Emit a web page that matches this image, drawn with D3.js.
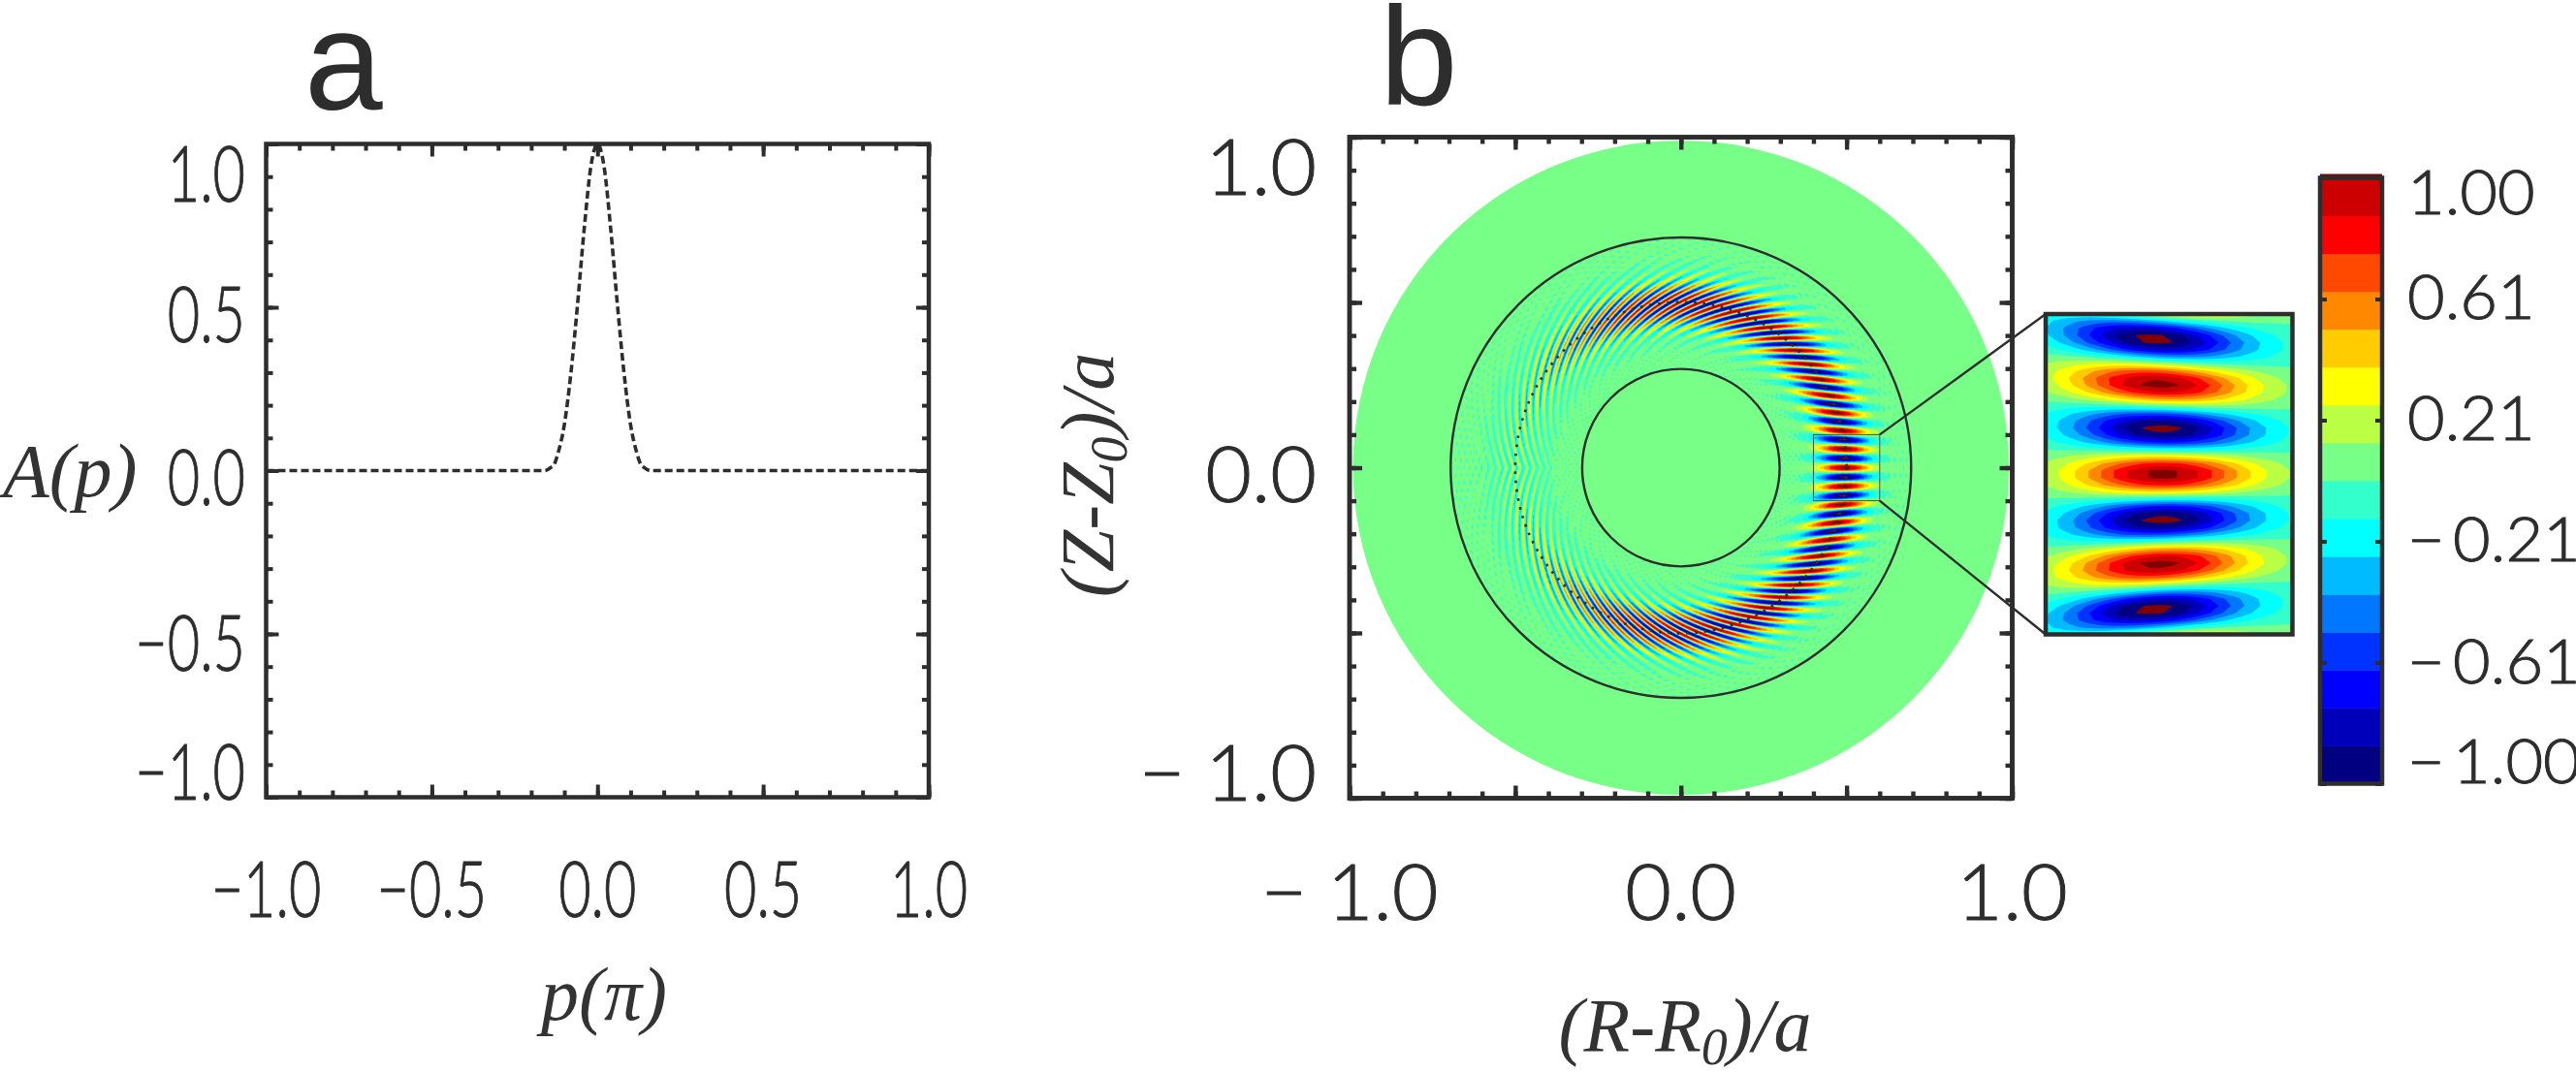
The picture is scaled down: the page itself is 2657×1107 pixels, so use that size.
<!DOCTYPE html>
<html lang="en">
<head>
<meta charset="UTF-8">
<title>Mode structure</title>
<style>
    html, body { margin: 0; padding: 0; background: #fff; overflow: hidden; }
    svg { display: block; }
    .num { font-family: Lato, "Open Sans", sans-serif; font-weight: 300; fill: #2d2d2d; stroke: #2d2d2d; stroke-width: 1px; }
    .lab { font-family: "Liberation Serif", serif; font-style: italic; font-weight: 400; fill: #333; }
    .panel { font-family: "Liberation Sans", Arial, sans-serif; fill: #2d2d2d; font-size: 145px; }
    .tick line, .domain { stroke: #2d2d2d; }
    .domain { display: none; }
</style>
</head>
<body>
<svg width="2657" height="1107"></svg>
<script src="https://d3js.org/d3.v7.min.js"></script>
<script>
// panel a: A(p)
const pValues = [-1, -0.16, -0.14, -0.13, -0.12, -0.10, -0.08, -0.06, -0.04, -0.02, 0, 0.02, 0.04, 0.06, 0.08, 0.10, 0.12, 0.13, 0.14, 0.16, 1];
const aValues = [0, 0, 0.01, 0.02, 0.05, 0.14, 0.30, 0.51, 0.74, 0.93, 1.0, 0.93, 0.74, 0.51, 0.30, 0.14, 0.05, 0.02, 0.01, 0, 0];

const aMajor = [-1, -0.5, 0, 0.5, 1];
const aMinor = d3.range(-10, 11).map(d => d / 10);
const aLabels = ["\u22121.0", "\u22120.5", "0.0", "0.5", "1.0"];
const bLabelTicks = [-1, 0, 1];
const bLabels = ["\u2212\u2009\u20091.0", "0.0", "1.0"];

// panel b: ring radii, envelope and radial wavenumber of the mode against poloidal angle
const ringRadii = [0.298, 0.695];
const discRadius = 0.99;
const ridgeRadius = 0.495;
const envAngles = [0, 30, 60, 90, 110, 130, 150, 170, 180];
const envAmps = [1.06, 1.06, 1.05, 1.0, 0.85, 0.6, 0.38, 0.28, 0.26];
const shearAngles = [0, 10, 33, 60, 90, 120, 180];
const shearK = [0, 25, 89, 150, 216, 250, 300];
const modeNumber = 55;

// colour bar
const barColors = ["#000080", "#0000bb", "#0000ff", "#0033ff", "#0077ff", "#00bbff", "#00ffff", "#33ffcc",
    "#77ff88", "#bbff44", "#ffff00", "#ffcc00", "#ff8800", "#ff4800", "#ff0000", "#cc0000"];
const overColor = "#800000";
const barTicks = [-1, -0.6, -0.2, 0.2, 0.6, 1];
const barLabels = ["\u2212\u20091.00", "\u2212\u20090.61", "\u2212\u20090.21", "0.21", "0.61", "1.00"];

const ink = "#2d2d2d";
const svg = d3.select("svg");
const defs = svg.append("defs");

const ax = d3.scaleLinear([-1, 1], [274.5, 958]);
const ay = d3.scaleLinear([-1, 1], [822.5, 148.5]);
const bx = d3.scaleLinear([-1, 1], [1392, 2075.5]);
const by = d3.scaleLinear([-1, 1], [823.5, 141.5]);
const ix = d3.scaleLinear([0.4, 0.6], [2110, 2364.5]);
const iy = d3.scaleLinear([-0.1, 0.1], [654.5, 324]);
const cy = d3.scaleLinear([-1, 1], [808.5, 183.5]);

const envelope = d3.scaleLinear(envAngles, envAmps);
const radialK = d3.scaleLinear(shearAngles, shearK);

function field(x, y, hatch) {
    const r = Math.hypot(x, y);
    if (r < 0.28 || r > 0.72) return 0;
    const th = Math.atan2(y, x);
    const deg = Math.abs(th) * 180 / Math.PI;
    const d = r - ridgeRadius;
    const phase = modeNumber * th + Math.sign(th) * radialK(deg) * d;
    const v = envelope(deg) * Math.exp(-d * d / (2 * 0.05 * 0.05)) * Math.cos(phase);
    // the weak chopped ripple seen all over the ring
    return hatch ? v + 0.03 * Math.cos(90 * th) * Math.cos(360 * r) + 0.02 : v;
}

// contour fill of the field over a data window, in the given pixel scales
function drawField(g, x0, x1, y0, y1, nx, ny, sx, sy, hatch) {
    const dx = (x1 - x0) / (nx - 1), dy = (y1 - y0) / (ny - 1);
    const values = new Float64Array(nx * ny);
    for (let j = 0; j < ny; j++) {
        for (let i = 0; i < nx; i++) {
            values[j * nx + i] = field(x0 + i * dx, y0 + j * dy, hatch);
        }
    }
    const negated = values.map(v => -v);
    const path = d3.geoPath(d3.geoTransform({
        point(px, py) {
            this.stream.point(sx(x0 + (px - 0.5) * dx), sy(y0 + (py - 0.5) * dy));
        }
    }));
    const contours = d3.contours().size([nx, ny]).smooth(true);

    g.append("rect")
        .attr("x", Math.min(sx(x0), sx(x1))).attr("y", Math.min(sy(y0), sy(y1)))
        .attr("width", Math.abs(sx(x1) - sx(x0))).attr("height", Math.abs(sy(y1) - sy(y0)))
        .attr("fill", barColors[0]);

    const levels = barColors.map((c, i) => ({ t: -1 + i * 0.125, c }));
    levels[0].t = -50;
    levels.push({ t: 1, c: overColor });
    levels.forEach(l => {
        g.append("path").attr("d", path(contours.contour(values, l.t))).attr("fill", l.c);
    });
    // below the bottom of the range the colour table wraps round to dark red
    g.append("path").attr("d", path(contours.contour(negated, 1))).attr("fill", overColor);
}

function frame(sx, sy, width) {
    const g = svg.append("g");
    const sizes = [[aMinor, 7], [aMajor, 13]];
    [[d3.axisBottom(sx), sy.range()[1]], [d3.axisTop(sx), sy.range()[0]]].forEach(([a, off]) => {
        sizes.forEach(([vals, len]) => {
            g.append("g").attr("transform", `translate(0,${off})`)
                .call(a.tickValues(vals).tickSize(len).tickFormat(""))
                .call(s => s.selectAll("line").attr("stroke-width", width));
        });
    });
    [[d3.axisRight(sy), sx.range()[0]], [d3.axisLeft(sy), sx.range()[1]]].forEach(([a, off]) => {
        sizes.forEach(([vals, len]) => {
            g.append("g").attr("transform", `translate(${off},0)`)
                .call(a.tickValues(vals).tickSize(len).tickFormat(""))
                .call(s => s.selectAll("line").attr("stroke-width", width));
        });
    });
    g.append("rect")
        .attr("x", sx.range()[0]).attr("y", sy.range()[1])
        .attr("width", sx.range()[1] - sx.range()[0]).attr("height", sy.range()[0] - sy.range()[1])
        .attr("fill", "none").attr("stroke", ink).attr("stroke-width", width + 0.5);
}

function numText(str, x, y, size, anchor, squeeze) {
    svg.append("text").attr("class", "num")
        .attr("transform", `translate(${x},${y}) scale(${squeeze},1)`)
        .attr("text-anchor", anchor).attr("font-size", size).text(str);
}

function subLabel(t, head, sub, tail) {
    t.append("tspan").text(head);
    t.append("tspan").attr("font-size", 54).attr("dy", 14).text(sub);
    t.append("tspan").attr("dy", -14).text(tail);
}

// ---- panel a ----
defs.append("clipPath").attr("id", "clipA").append("rect")
    .attr("x", ax(-1)).attr("y", ay(1)).attr("width", ax(1) - ax(-1)).attr("height", ay(-1) - ay(1));

svg.append("path")
    .datum(d3.zip(pValues, aValues))
    .attr("clip-path", "url(#clipA)")
    .attr("fill", "none").attr("stroke", ink).attr("stroke-width", 3.6)
    .attr("stroke-dasharray", "8 4")
    .attr("d", d3.line().x(d => ax(d[0])).y(d => ay(d[1])).curve(d3.curveMonotoneX));

frame(ax, ay, 4);

// the label baselines in the reference do not follow the ticks exactly
const aYBase = [825, 692, 521, 353, 208];
aMajor.forEach((v, i) => numText(aLabels[i], 253, aYBase[i], 80, "end", 0.72));
aMajor.forEach((v, i) => numText(aLabels[i], ax(v), 946, 80, "middle", 0.72));

svg.append("text").attr("class", "lab").attr("x", 3).attr("y", 512).attr("font-size", 78).text("A(p)");
svg.append("text").attr("class", "lab").attr("x", 623).attr("y", 1052).attr("font-size", 78)
    .attr("text-anchor", "middle").text("p(\u03c0)");
svg.append("text").attr("class", "panel").attr("x", 314).attr("y", 113).text("a");

// ---- panel b ----
svg.append("ellipse")
    .attr("cx", bx(0)).attr("cy", by(0))
    .attr("rx", bx(discRadius) - bx(0)).attr("ry", by(0) - by(discRadius))
    .attr("fill", barColors[8]);

const ringClip = defs.append("clipPath").attr("id", "clipRing");
ringClip.append("path").attr("clip-rule", "evenodd").attr("d", () => {
    const p = d3.path();
    ringRadii.forEach(r => {
        const R = bx(r) - bx(0);
        p.moveTo(bx(0) + R, by(0));
        p.arc(bx(0), by(0), R, 0, 2 * Math.PI);
    });
    return p.toString();
});

const ring = svg.append("g").attr("clip-path", "url(#clipRing)");
drawField(ring, -0.71, 0.71, -0.71, 0.71, 700, 700, bx, by, true);

svg.append("g").selectAll("circle").data(ringRadii).join("circle")
    .attr("cx", bx(0)).attr("cy", by(0)).attr("r", d => bx(d) - bx(0))
    .attr("fill", "none").attr("stroke", ink).attr("stroke-width", 2.4);

// dotted q surface
svg.append("circle")
    .attr("cx", bx(0)).attr("cy", by(0)).attr("r", bx(0.5) - bx(0))
    .attr("fill", "none").attr("stroke", ink).attr("stroke-width", 2.6)
    .attr("stroke-dasharray", "2.6 6.7");

// box and connector lines to the inset
svg.append("rect")
    .attr("x", bx(0.4)).attr("y", by(0.1))
    .attr("width", bx(0.6) - bx(0.4)).attr("height", by(-0.1) - by(0.1))
    .attr("fill", "none").attr("stroke", ink).attr("stroke-width", 1).attr("opacity", 0.8);

frame(bx, by, 4.4);

svg.append("line").attr("x1", bx(0.6)).attr("y1", by(0.1)).attr("x2", ix(0.4)).attr("y2", iy(0.1))
    .attr("stroke", ink).attr("stroke-width", 2.4);
svg.append("line").attr("x1", bx(0.6)).attr("y1", by(-0.1)).attr("x2", ix(0.4)).attr("y2", iy(-0.1))
    .attr("stroke", ink).attr("stroke-width", 2.4);

bLabelTicks.forEach((v, i) => numText(bLabels[i], bx(v), 949, 80, "middle", 1.03));
[826, 518, 201].forEach((base, i) => numText(bLabels[i], 1358, base, 80, "end", 1.03));

svg.append("text").attr("class", "lab").attr("x", 1738).attr("y", 1084).attr("font-size", 78)
    .attr("text-anchor", "middle")
    .call(subLabel, "(R-R", "0", ")/a");
svg.append("text").attr("class", "lab")
    .attr("transform", "translate(1148,490) rotate(-90)").attr("font-size", 78)
    .attr("text-anchor", "middle")
    .call(subLabel, "(Z-Z", "0", ")/a");
svg.append("text").attr("class", "panel").attr("x", 1423).attr("y", 108).text("b");

// ---- inset ----
defs.append("clipPath").attr("id", "clipInset").append("rect")
    .attr("x", ix(0.4)).attr("y", iy(0.1)).attr("width", ix(0.6) - ix(0.4)).attr("height", iy(-0.1) - iy(0.1));
const inset = svg.append("g").attr("clip-path", "url(#clipInset)");
drawField(inset, 0.4, 0.6, -0.1, 0.1, 34, 46, ix, iy, false);
svg.append("rect")
    .attr("x", ix(0.4)).attr("y", iy(0.1)).attr("width", ix(0.6) - ix(0.4)).attr("height", iy(-0.1) - iy(0.1))
    .attr("fill", "none").attr("stroke", ink).attr("stroke-width", 4.5);

// ---- colour bar ----
const barX0 = 2393, barX1 = 2457;
const step = 2 / barColors.length;
svg.append("rect").attr("x", barX0).attr("y", cy(1) - 4).attr("width", barX1 - barX0).attr("height", 4).attr("fill", overColor);
svg.append("g").selectAll("rect").data(barColors).join("rect")
    .attr("x", barX0).attr("width", barX1 - barX0)
    .attr("y", (d, i) => cy(-1 + (i + 1) * step))
    .attr("height", (d, i) => cy(-1 + i * step) - cy(-1 + (i + 1) * step) + 0.5)
    .attr("fill", d => d);
[[d3.axisRight(cy), barX0], [d3.axisLeft(cy), barX1]].forEach(([a, off]) => {
    svg.append("g").attr("transform", `translate(${off},0)`)
        .call(a.tickValues(barTicks).tickSize(7).tickFormat(""))
        .call(s => s.selectAll("line").attr("stroke-width", 4));
});
svg.append("rect").attr("x", barX0).attr("y", cy(1)).attr("width", barX1 - barX0).attr("height", cy(-1) - cy(1))
    .attr("fill", "none").attr("stroke", ink).attr("stroke-width", 4.5);
const barBase = [808, 705, 579, 454, 329, 221];
barTicks.forEach((v, i) => numText(barLabels[i], 2483, barBase[i], 63, "start", 1.06));
</script>
</body>
</html>
